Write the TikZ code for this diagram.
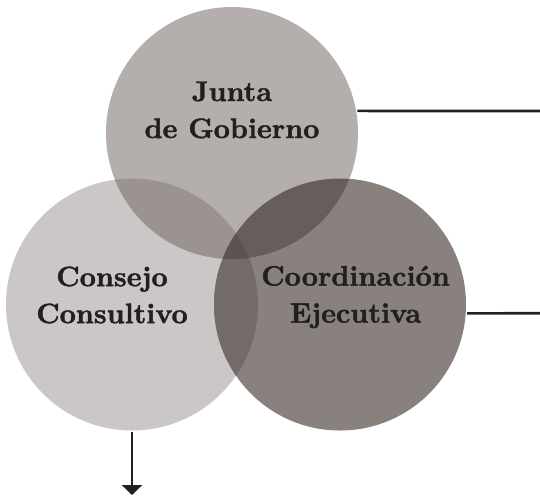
\documentclass[tikz,border=0pt]{standalone}
\usepackage{fontspec}
\newfontfamily\etiqueta[FakeBold=1.4]{lmroman10-bold.otf}
\usetikzlibrary{arrows.meta}

\definecolor{gobierno}{HTML}{B4AFAC}
\definecolor{consejo}{HTML}{CBC7C6}
\definecolor{coord}{HTML}{88817E}
\definecolor{jgcc}{HTML}{9A9391}
\definecolor{jgce}{HTML}{675E5B}
\definecolor{ccce}{HTML}{736B69}
\definecolor{todos}{HTML}{5D5451}
\definecolor{letra}{HTML}{231F20}

\begin{document}
\begin{tikzpicture}[x=1pt, y=-1pt, line width=2.7pt,
    circ/.style={circle, minimum size=252pt, inner sep=0pt},
    lbl/.style={align=center, text=letra, font=\etiqueta\fontsize{28.2}{37}\selectfont},
    linea/.style={draw=letra, line width=2.7pt}]
\useasboundingbox (0,0) rectangle (540,496);

\node[circ, fill=consejo] (cc) at (132,304.5) {};
\node[circ, fill=coord] (ce) at (340,304.5) {};
\node[circ, fill=gobierno] (jg) at (232,133) {};

%overlaps
\begin{scope}
    \clip (jg.center) circle [radius=126pt];
    \fill[jgcc] (cc.center) circle [radius=126pt];
    \fill[jgce] (ce.center) circle [radius=126pt];
\end{scope}
\begin{scope}
    \clip (cc.center) circle [radius=126pt];
    \fill[ccce] (ce.center) circle [radius=126pt];
    \clip (jg.center) circle [radius=126pt];
    \fill[todos] (ce.center) circle [radius=126pt];
\end{scope}

\node[lbl] (tjg) at (232,110) {Junta\\de Gobierno};
\node[lbl] (tcc) at (112,295) {Consejo\\Consultivo};
\node[lbl] (tce) at (355.5,297) {Coordinación\\Ejecutiva};

\coordinate (fin1) at (540,111);
\coordinate (fin2) at (540,313.3);
\coordinate (abajo) at (132,495);
\draw[linea] (jg.10) -- (fin1);
\draw[linea] (ce.-4) -- (fin2);
\draw[linea, -{Triangle[width=20pt, length=10pt]}] (cc.south) -- (abajo);
\end{tikzpicture}
\end{document}
